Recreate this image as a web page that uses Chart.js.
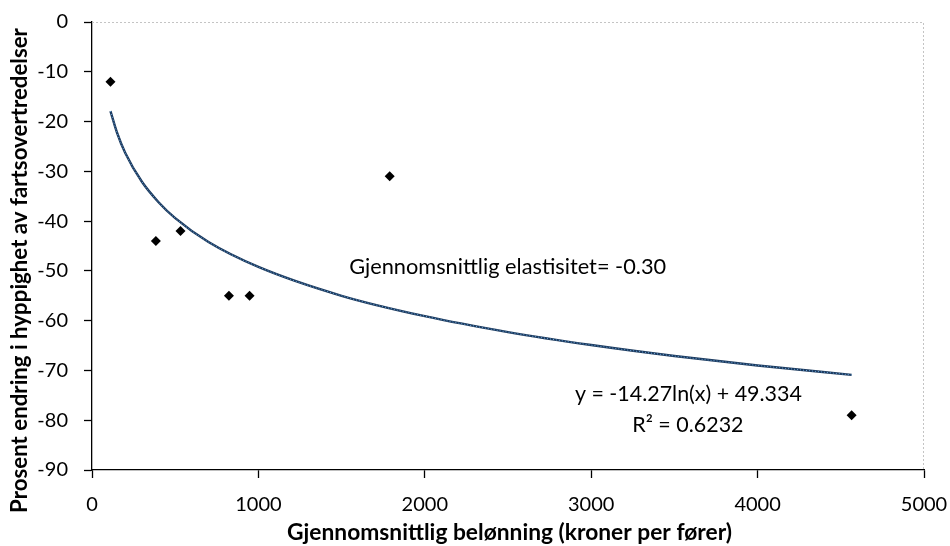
<!DOCTYPE html>
<html>
<head>
<meta charset="utf-8">
<script src="https://cdn.jsdelivr.net/npm/chart.js@4.4.1/dist/chart.umd.min.js"></script>
<style>
html,body{margin:0;padding:0;background:#fff;}
#wrap{width:950px;height:546px;position:relative;}
</style>
</head>
<body>
<div id="wrap"><canvas id="c" width="950" height="546"></canvas></div>
<script>
// Observed data points (reward in NOK per driver, % change in speeding frequency)
const rewardX = [111, 384, 532, 823, 947, 1789, 4565];
const changeY = [-12, -44, -42, -55, -55, -31, -79];
// Logarithmic trend line values
const trendX = [111, 150, 200, 300, 400, 500, 700, 1000, 1500, 2000, 2500, 3000, 3500, 4000, 4565];
const trendY = [-17.9, -22.2, -26.3, -32.1, -36.2, -39.4, -44.2, -49.2, -55.0, -59.1, -62.3, -64.9, -67.1, -69.0, -70.9];
const xTicks = [0, 1000, 2000, 3000, 4000, 5000];
const yTicks = [-90, -80, -70, -60, -50, -40, -30, -20, -10, 0];
const xTitle = 'Gjennomsnittlig belønning (kroner per fører)';
const yTitle = 'Prosent endring i hyppighet av fartsovertredelser';
const noteElasticity = 'Gjennomsnittlig elastisitet= -0.30';
const noteEquation = 'y = -14.27ln(x) + 49.334';
const noteR2 = 'R² = 0.6232';

const FONT = 'Lato, "Open Sans", sans-serif';

function fitFont(ctx, text, width, weight) {
  ctx.font = weight + ' 20px ' + FONT;
  const w = ctx.measureText(text).width;
  const size = 20 * width / w;
  ctx.font = weight + ' ' + size.toFixed(2) + 'px ' + FONT;
}

const notesPlugin = {
  id: 'notes',
  afterDatasetsDraw(chart) {
    const {ctx, chartArea: a, scales} = chart;
    const xs = scales.x, ys = scales.y;
    ctx.save();
    // dotted top/right border of the plot area
    ctx.strokeStyle = '#c4c4c4';
    ctx.lineWidth = 1;
    ctx.setLineDash([2, 2]);
    ctx.beginPath();
    ctx.moveTo(a.left, a.top + 0.5);
    ctx.lineTo(a.right - 0.5, a.top + 0.5);
    ctx.lineTo(a.right - 0.5, a.bottom);
    ctx.stroke();
    ctx.setLineDash([]);
    ctx.fillStyle = '#000';
    ctx.textBaseline = 'alphabetic';
    ctx.textAlign = 'center';
    fitFont(ctx, noteElasticity, 317, 'normal');
    ctx.fillText(noteElasticity, xs.getPixelForValue(2498), ys.getPixelForValue(-50.6));
    fitFont(ctx, noteEquation, 227, 'normal');
    ctx.fillText(noteEquation, xs.getPixelForValue(3584), ys.getPixelForValue(-76.1));
    ctx.fillText(noteR2, xs.getPixelForValue(3581), ys.getPixelForValue(-82.3));
    // axis titles
    fitFont(ctx, xTitle, 445, 'bold');
    ctx.fillText(xTitle, 509.5, 540);
    fitFont(ctx, yTitle, 485, 'bold');
    ctx.translate(26.5, 270.5);
    ctx.rotate(-Math.PI / 2);
    ctx.fillText(yTitle, 0, 0);
    ctx.restore();
  }
};

new Chart(document.getElementById('c'), {
  type: 'scatter',
  data: {
    datasets: [
      {
        label: 'trend-base',
        data: trendX.map((x, i) => ({x, y: trendY[i]})),
        showLine: true,
        borderColor: '#1c3a5e',
        borderWidth: 2.4,
        pointRadius: 0,
        cubicInterpolationMode: 'monotone',
        order: 2
      },
      {
        label: 'trend-dots',
        data: trendX.map((x, i) => ({x, y: trendY[i]})),
        showLine: true,
        borderColor: '#6aa6dc',
        borderWidth: 1,
        borderDash: [1, 2],
        pointRadius: 0,
        cubicInterpolationMode: 'monotone',
        order: 1
      },
      {
        label: 'data',
        data: rewardX.map((x, i) => ({x, y: changeY[i]})),
        pointStyle: 'rectRot',
        pointRadius: 5,
        backgroundColor: '#000',
        borderColor: '#000',
        borderWidth: 0,
        order: 0
      }
    ]
  },
  options: {
    responsive: false,
    animation: false,
    layout: {padding: {left: 0, right: 26, top: 22, bottom: 0}},
    plugins: {legend: {display: false}, tooltip: {enabled: false}},
    scales: {
      x: {
        type: 'linear',
        min: 0, max: 5000,
        afterBuildTicks(s) { s.ticks = xTicks.map(v => ({value: v})); },
        afterFit(s) { s.height = 76; s.paddingLeft = 0; s.paddingRight = 0; },
        grid: {drawOnChartArea: false, tickLength: 8, tickColor: '#000', tickWidth: 1.3},
        border: {color: '#000', width: 1.3},
        ticks: {color: '#000', font: {family: FONT, size: 20}, padding: 15, maxRotation: 0,
                callback: v => String(v)},
        title: {display: false}
      },
      y: {
        type: 'linear',
        min: -90, max: 0,
        afterBuildTicks(s) { s.ticks = yTicks.map(v => ({value: v})); },
        afterFit(s) { s.width = 92; s.paddingTop = 0; s.paddingBottom = 0; },
        grid: {drawOnChartArea: false, tickLength: 8, tickColor: '#000', tickWidth: 1.3},
        border: {color: '#000', width: 1.3},
        ticks: {color: '#000', font: {family: FONT, size: 20}, padding: 16,
                callback: v => String(v)},
        title: {display: false}
      }
    }
  },
  plugins: [notesPlugin]
});
</script>
</body>
</html>
